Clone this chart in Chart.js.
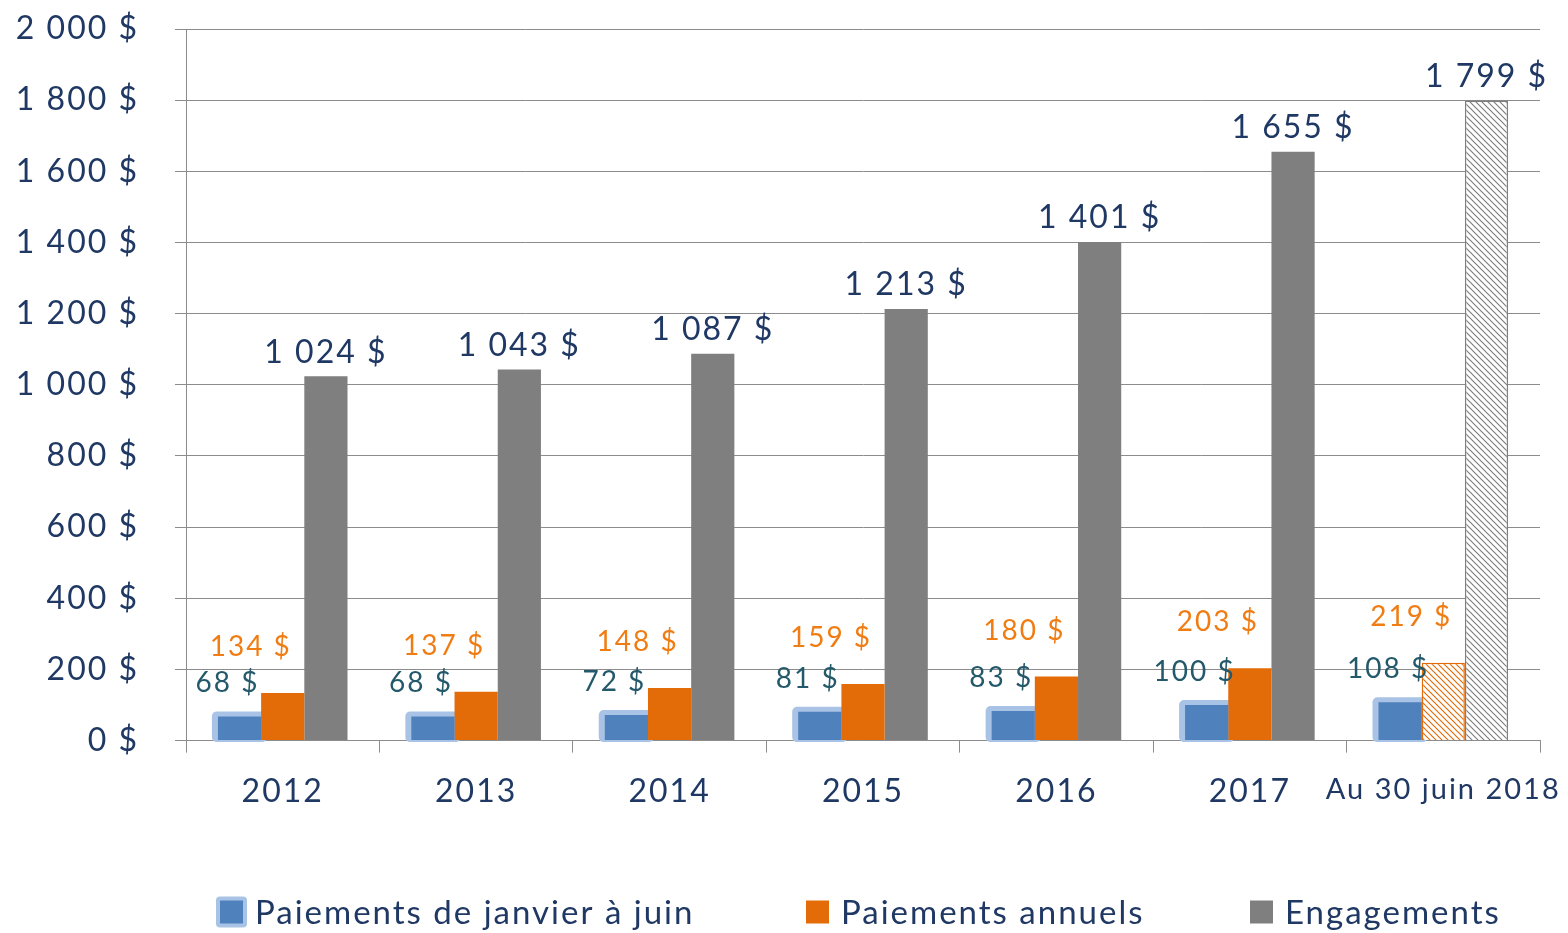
<!DOCTYPE html>
<html><head><meta charset="utf-8">
<script src="https://cdn.jsdelivr.net/npm/chart.js@4.4.0/dist/chart.umd.min.js"></script>
<style>html,body{margin:0;padding:0;background:#fff}#wrap{width:1568px;height:933px}</style>
</head><body><div id="wrap"><canvas id="c" width="1568" height="933"></canvas></div>
<script>
const categories = ['2012','2013','2014','2015','2016','2017','Au 30 juin 2018'];
const paiementsJanJuin = [68,68,72,81,83,100,108];
const paiementsAnnuels = [134,137,148,159,180,203,219];
const engagements = [1024,1043,1087,1213,1401,1655,1799];
const seriesNames = ['Paiements de janvier à juin','Paiements annuels','Engagements'];
const yTicks = [0,200,400,600,800,1000,1200,1400,1600,1800,2000];

const FONT = 'Lato';
const NAVY = '#1F3864';
const BLUE = '#4F81BD', GLOW = '#A9C3E6', ORANGE = '#E36C09', GRAY = '#7F7F7F';

function fmt(v){ return String(v).replace(/\B(?=(\d{3})+(?!\d))/g,' ') + ' $'; }

const cv = document.getElementById('c');
const ctx0 = cv.getContext('2d');
function hatch(color){
  const s=6, c=document.createElement('canvas'); c.width=s; c.height=s;
  const x=c.getContext('2d'); x.fillStyle='#fff'; x.fillRect(0,0,s,s);
  x.strokeStyle=color; x.lineWidth=1.2; x.beginPath();
  x.moveTo(-s,0); x.lineTo(s,2*s); x.moveTo(0,-s); x.lineTo(2*s,s);
  x.moveTo(-1,-1); x.lineTo(s+1,s+1);
  x.stroke();
  return ctx0.createPattern(c,'repeat');
}
const last = categories.length-1;
const orangeBg = paiementsAnnuels.map((v,i)=> i===last ? hatch(ORANGE) : ORANGE);
const grayBg = engagements.map((v,i)=> i===last ? hatch(GRAY) : GRAY);
const lastBorder = categories.map((c,i)=> i===last ? 1.5 : 0);

const spacingPlugin = {
  id:'spacing',
  beforeDraw(chart){ chart.ctx.letterSpacing = '2px'; }
};
const glowPlugin = {
  id:'glow',
  beforeDatasetsDraw(chart){
    const meta = chart.getDatasetMeta(0); const ctx = chart.ctx;
    ctx.save(); ctx.fillStyle = GLOW;
    meta.data.forEach(el=>{
      const p = el.getProps(['x','y','base','width'], true);
      const l = p.x - p.width/2 - 6, t = p.y - 5;
      ctx.beginPath(); ctx.roundRect(l, t, p.width + 12, p.base - t + 2, 5); ctx.fill();
    });
    ctx.restore();
  }
};
const labelPlugin = {
  id:'vlabels',
  afterDatasetsDraw(chart, args, opts){
    const ctx = chart.ctx; ctx.save();
    ctx.textAlign='center'; ctx.textBaseline='middle';
    chart.data.datasets.forEach((ds,di)=>{
      const cfg = opts.sets[di];
      ctx.font = cfg.font; ctx.fillStyle = cfg.color;
      chart.getDatasetMeta(di).data.forEach((el,i)=>{
        ctx.fillText(fmt(ds.data[i]), el.x + cfg.dx, el.y + cfg.dy);
      });
    });
    ctx.restore();
  }
};
const legendPlugin = {
  id:'customLegend',
  afterDraw(chart, args, opts){
    const ctx = chart.ctx; ctx.save();
    ctx.font = opts.font; ctx.textBaseline='middle'; ctx.textAlign='left';
    const y = opts.y, b = opts.box;
    chart.data.datasets.forEach((ds,i)=>{
      const x = opts.xs[i];
      if(i===0){ ctx.fillStyle = GLOW; ctx.beginPath(); ctx.roundRect(x-4, y-b/2-4, b+8, b+8, 4); ctx.fill(); }
      ctx.fillStyle = opts.colors[i];
      ctx.fillRect(x, y-b/2, b, b);
      ctx.fillStyle = NAVY;
      ctx.fillText(ds.label, x + b + opts.gap, y + 1);
    });
    ctx.restore();
  }
};

new Chart(cv, {
  type:'bar',
  data:{
    labels: categories,
    datasets:[
      {label:seriesNames[0], data:paiementsJanJuin, backgroundColor:BLUE, borderWidth:0},
      {label:seriesNames[1], data:paiementsAnnuels, backgroundColor:orangeBg, borderColor:ORANGE, borderWidth:lastBorder},
      {label:seriesNames[2], data:engagements, backgroundColor:grayBg, borderColor:GRAY, borderWidth:lastBorder}
    ]
  },
  options:{
    responsive:false, animation:false,
    layout:{padding:{top:29,right:28,bottom:102,left:0}},
    datasets:{bar:{categoryPercentage:0.67, barPercentage:1.0}},
    scales:{
      x:{
        afterFit(s){ s.paddingLeft = 0; s.paddingRight = 0; },
        grid:{display:true, drawOnChartArea:false, offset:true, tickLength:12, color:'#8c8c8c', lineWidth:1},
        border:{display:true, color:'#8c8c8c'},
        ticks:{color:NAVY, font:(c)=>({family:FONT, size: c.index===6 ? 29 : 32}), padding:20, maxRotation:0, autoSkip:false}
      },
      y:{
        min:0, max:2000,
        afterBuildTicks(s){ s.ticks = yTicks.map(v=>({value:v})); },
        afterFit(s){ s.width = 186; s.paddingTop = 0; s.paddingBottom = 0; },
        grid:{color:'#8c8c8c', lineWidth:1, tickLength:11},
        border:{display:true, color:'#8c8c8c'},
        ticks:{color:NAVY, font:{family:FONT, size:32}, padding:36, callback:v=>fmt(v)}
      }
    },
    plugins:{
      tooltip:{enabled:false},
      legend:{display:false},
      customLegend:{ font:'33px '+FONT, y:912, box:23, gap:12, xs:[220,806,1250], colors:[BLUE,ORANGE,GRAY] },
      vlabels:{ sets:[
        {font:'28px '+FONT, color:'#23596B', dx:-12, dy:-33},
        {font:'28px '+FONT, color:'#F07D14', dx:-32, dy:-46},
        {font:'32px '+FONT, color:'#1F3864', dx:0, dy:-24}
      ]}
    }
  },
  plugins:[spacingPlugin, glowPlugin, labelPlugin, legendPlugin]
});
</script></body></html>
